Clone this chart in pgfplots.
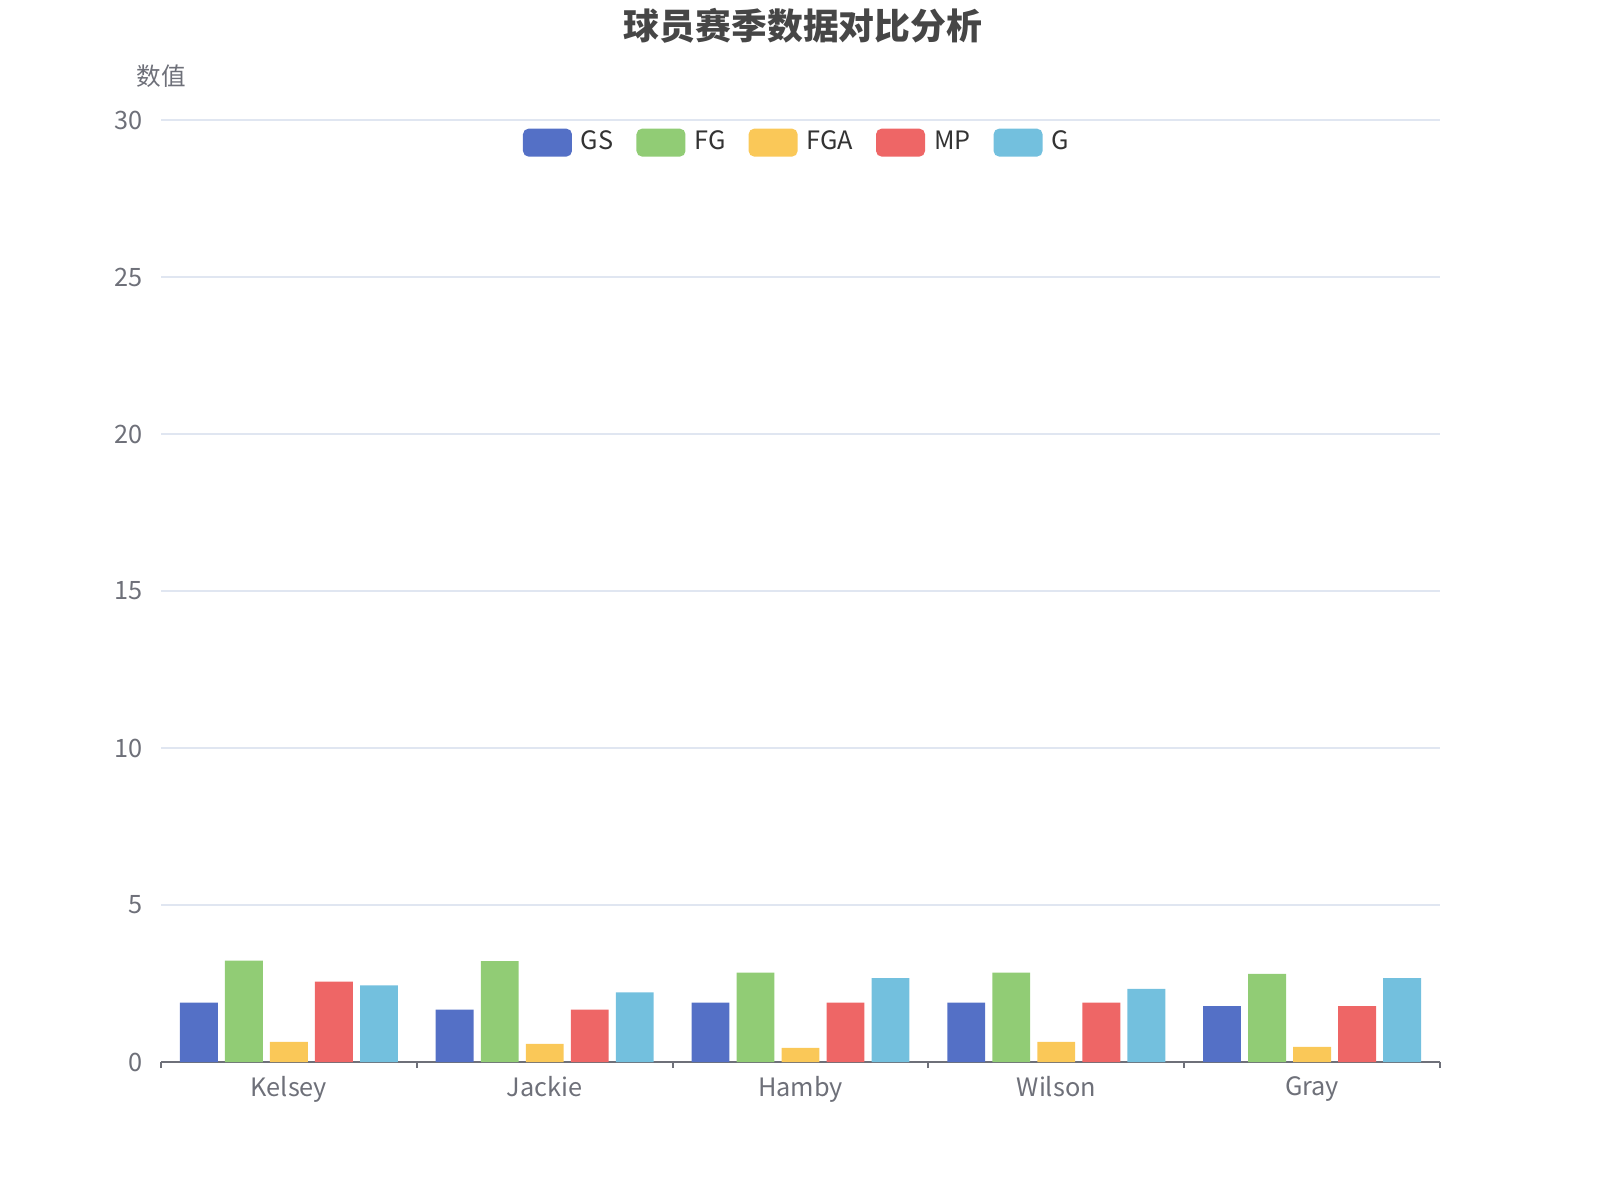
\documentclass[border=0pt]{standalone}
\usepackage{fontspec}
\setmainfont{Noto Sans CJK SC}
\usepackage{pgfplots}
\pgfplotsset{compat=1.18}
\definecolor{cGS}{HTML}{5470C6}
\definecolor{cFG}{HTML}{91CC75}
\definecolor{cFGA}{HTML}{FAC858}
\definecolor{cMP}{HTML}{EE6666}
\definecolor{cG}{HTML}{73C0DE}
\definecolor{axisgray}{HTML}{6E7079}
\definecolor{gridc}{HTML}{E0E6F1}
\definecolor{titlec}{HTML}{464646}

\begin{document}
\begin{tikzpicture}
\begin{axis}[
  ybar,
  at={(1.61cm,1.38cm)}, anchor=south west,
  scale only axis, width=12.79cm, height=9.42cm,
  xmin=-0.5, xmax=4.5, ymin=0, ymax=30,
  ytick={0,5,...,30},
  xtick={0,1,2,3,4},
  xticklabels={Kelsey,Jackie,Hamby,Wilson,Gray},
  minor xtick={-0.5,0.5,...,4.5},
  major tick length=0pt, minor tick length=0.06cm,
  tick align=outside, tick pos=bottom,
  minor tick style={axisgray, line width=0.6pt},
  axis x line*=bottom, axis y line*=left,
  x axis line style={axisgray, line width=0.6pt},
  y axis line style={draw=none},
  ymajorgrids, grid style={gridc, line width=0.6pt},
  ticklabel style={font=\fontsize{7.2}{8.5}\selectfont, text=axisgray},
  /pgf/number format/assume math mode=true,
  yticklabel style={xshift=-0.06cm},
  xticklabel style={yshift=-0.02cm},
  legend columns=5,
  legend style={draw=none, fill=none, at={(0.5,0.976)}, anchor=center,
    font=\fontsize{7.2}{8.5}\selectfont, text=black!80,
    /tikz/every even column/.append style={column sep=0.14cm},
    nodes={inner xsep=0.09cm},
    inner sep=0pt},
  legend image code/.code={\fill[#1, draw=none, rounded corners=1.6pt] (0cm,-0.14cm) rectangle (0.49cm,0.14cm);},
  bar width=0.148,
]
\addplot[fill=cGS, draw=none, bar shift=-0.352] coordinates {(0,1.89) (1,1.67) (2,1.89) (3,1.89) (4,1.78)};
\addplot[fill=cFG, draw=none, bar shift=-0.176] coordinates {(0,3.23) (1,3.21) (2,2.85) (3,2.85) (4,2.81)};
\addplot[fill=cFGA, draw=none, bar shift=0] coordinates {(0,0.64) (1,0.58) (2,0.45) (3,0.64) (4,0.48)};
\addplot[fill=cMP, draw=none, bar shift=0.176] coordinates {(0,2.56) (1,1.67) (2,1.89) (3,1.89) (4,1.78)};
\addplot[fill=cG, draw=none, bar shift=0.352] coordinates {(0,2.44) (1,2.22) (2,2.67) (3,2.33) (4,2.67)};
\legend{GS,FG,FGA,MP,G}
\end{axis}
\node[font=\fontsize{10.2}{12}\selectfont\bfseries, text=titlec] at (8.03,11.74) {球员赛季数据对比分析};
\node[font=\fontsize{7}{8}\selectfont, text=axisgray] at (1.61,11.24) {数值};
\pgfresetboundingbox
\useasboundingbox (0,0) rectangle (16,12);
\end{tikzpicture}
\end{document}
